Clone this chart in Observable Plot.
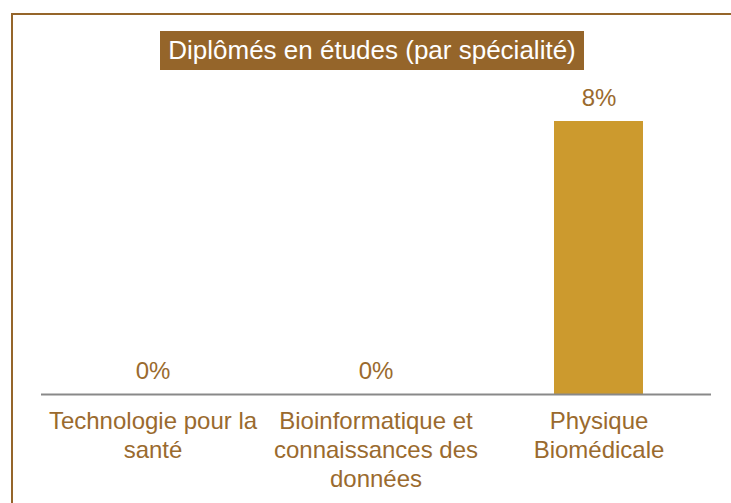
<!DOCTYPE html>
<html>
<head>
<meta charset="utf-8">
<script src="https://cdn.jsdelivr.net/npm/d3@7"></script>
<script src="https://cdn.jsdelivr.net/npm/@observablehq/plot@0.6"></script>
<style>
  body { margin: 0; background: #fff; font-family: "Liberation Sans", Arial, sans-serif; }
  #wrap { position: relative; width: 731px; height: 503px; overflow: hidden; }
  #frame { position: absolute; left: 11px; top: 13px; width: 800px; height: 600px; border: 2px solid #95652a; box-sizing: border-box; }
  #title { position: absolute; left: 160px; top: 31px; width: 424px; height: 39px; background: #95652a; color: #fff;
           font-size: 26px; line-height: 39px; text-align: center; white-space: nowrap; }
  #chart { position: absolute; left: 0; top: 0; }
</style>
</head>
<body>
<div id="wrap">
  <div id="frame"></div>
  <div id="chart"></div>
  <div id="title">Diplômés en études (par spécialité)</div>
</div>
<script>
const categories = ["Technologie pour la santé", "Bioinformatique et connaissances des données", "Physique Biomédicale"];
const tickLabels = ["Technologie pour la\nsanté", "Bioinformatique et\nconnaissances des\ndonnées", "Physique\nBiomédicale"];
const values = [0, 0, 8];
const valueLabels = ["0%", "0%", "8%"];

const data = categories.map((c, i) => ({category: c, value: values[i], label: valueLabels[i], tick: tickLabels[i]}));

const plot = Plot.plot({
  width: 731,
  height: 503,
  marginLeft: 41,
  marginRight: 20,
  marginTop: 121,
  marginBottom: 109,
  style: {fontFamily: "'Liberation Sans', Arial, sans-serif", background: "transparent"},
  x: {domain: categories, paddingInner: 0.6, paddingOuter: 0.3, label: null},
  y: {domain: [0, 8], axis: null},
  marks: [
    Plot.barY(data, {x: "category", y: "value", fill: "#cc9a2e"}),
    Plot.ruleY([0], {stroke: "#898989", strokeWidth: 2}),
    Plot.text(data, {x: "category", y: "value", text: "label", fill: "#9a6a2e", fontSize: 24, lineAnchor: "bottom", dy: -16}),
    Plot.axisX({tickSize: 0, tickPadding: 14, fontSize: 24, lineHeight: 1.2, fill: "#9a6a2e",
                tickFormat: (d) => tickLabels[categories.indexOf(d)], label: null})
  ]
});
document.getElementById("chart").appendChild(plot);
</script>
</body>
</html>
